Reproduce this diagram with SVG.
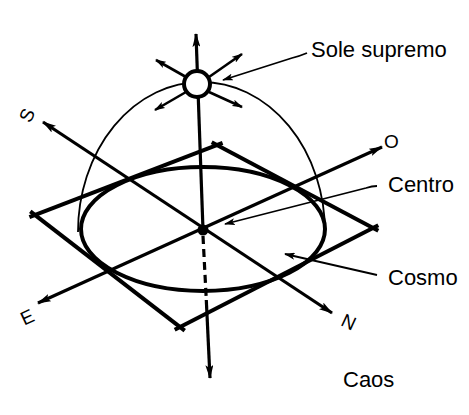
<svg xmlns="http://www.w3.org/2000/svg" width="469" height="415" viewBox="0 0 469 415">
  <style>
    .thin { fill: none; stroke: #000; stroke-width: 1.8; }
    .thick { fill: none; stroke: #000; stroke-width: 4; stroke-linecap: butt; }
    .axis { fill: none; stroke: #000; stroke-width: 3.2; }
    .ray { fill: none; stroke: #000; stroke-width: 2.6; }
    .lead { fill: none; stroke: #000; stroke-width: 1.8; }
    .lbl { font-family: "Liberation Sans", Arial, sans-serif; font-size: 22px; fill: #000; }
    .dir { font-family: "Liberation Sans", Arial, sans-serif; font-size: 19px; fill: #000; }
  </style>
  <defs>
    <marker id="ah" viewBox="0 0 14 8" markerWidth="14" markerHeight="8" refX="13" refY="4" orient="auto-start-reverse" markerUnits="userSpaceOnUse">
      <path d="M0,0 L14,4 L0,8 L3,4 z" fill="#000"/>
    </marker>
    <marker id="as" viewBox="0 0 11 7" markerWidth="11" markerHeight="7" refX="10" refY="3.5" orient="auto" markerUnits="userSpaceOnUse">
      <path d="M0,0 L11,3.5 L0,7 L2.5,3.5 z" fill="#000"/>
    </marker>
  </defs>
  <rect width="469" height="415" fill="#fff"/>

  <g id="hemisphere">
    <path class="thin" d="M78,232 A123.5,150 0 0 1 325,232"/>
  </g>

  <g id="cosmo">
    <ellipse class="thick" cx="203" cy="229" rx="122" ry="62"/>
  </g>

  <g id="plane">
    <line class="thick" x1="29.4" y1="217.2" x2="222.6" y2="142.8"/>
    <line class="thick" x1="211.7" y1="142.2" x2="378.3" y2="230.8"/>
    <line class="thick" x1="378.3" y1="225.3" x2="174.7" y2="329.7"/>
    <line class="thick" x1="184.7" y1="330.7" x2="30.3" y2="211.3"/>
  </g>

  <g id="connectors">
    <!-- S-N axis -->
    <line class="axis" x1="43" y1="122" x2="332" y2="313" marker-start="url(#ah)" marker-end="url(#ah)"/>
    <!-- E-O axis -->
    <line class="axis" x1="38" y1="303" x2="382" y2="147" marker-start="url(#ah)" marker-end="url(#ah)"/>
    <!-- vertical axis -->
    <line class="axis" x1="203" y1="230" x2="196" y2="34" marker-end="url(#ah)"/>
    <line class="axis" x1="203" y1="236" x2="206.3" y2="300" stroke-dasharray="8 5" stroke-width="2.6"/>
    <line class="axis" x1="206.3" y1="300" x2="210" y2="378" marker-end="url(#ah)"/>
    <!-- sun rays -->
    <line class="ray" x1="186" y1="77" x2="156" y2="60" marker-end="url(#as)"/>
    <line class="ray" x1="209" y1="77" x2="242" y2="54" marker-end="url(#as)"/>
    <line class="ray" x1="186" y1="92" x2="155" y2="110" marker-end="url(#as)"/>
    <line class="ray" x1="209" y1="92" x2="242" y2="107" marker-end="url(#as)"/>
    <!-- leaders -->
    <path class="lead" d="M307,53 Q300,56 292,58 L223,80" marker-end="url(#as)"/>
    <path class="lead" d="M377,186 Q372,186 366,188 L225,224" marker-end="url(#as)"/>
    <path class="lead" d="M377,275 L285,254" marker-end="url(#as)"/>
  </g>

  <g id="sun">
    <circle cx="197" cy="84" r="13" fill="#fff" stroke="#000" stroke-width="4"/>
  </g>

  <g id="centro">
    <circle cx="203" cy="230" r="5.5" fill="#000"/>
  </g>

  <g id="labels">
    <text class="lbl" x="311" y="57">Sole supremo</text>
    <text class="lbl" x="388" y="192">Centro</text>
    <text class="lbl" x="388" y="285">Cosmo</text>
    <text class="lbl" x="343" y="387" font-size="21">Caos</text>
    <text class="dir" x="384" y="148">O</text>
    <text class="dir" x="0" y="0" text-anchor="middle" transform="translate(33,118) rotate(-65)">S</text>
    <text class="dir" x="0" y="0" text-anchor="middle" transform="translate(30,323) rotate(-25)">E</text>
    <text class="dir" x="0" y="0" text-anchor="middle" transform="translate(346,328) rotate(25)">N</text>
  </g>
</svg>
